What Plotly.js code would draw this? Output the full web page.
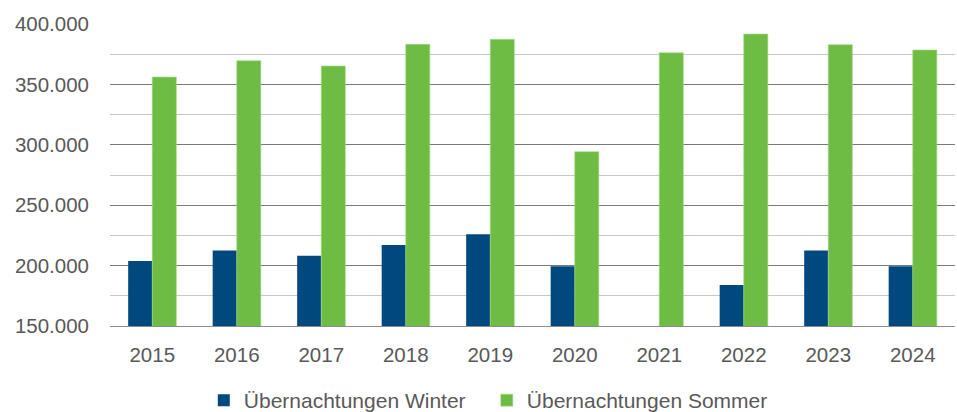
<!DOCTYPE html>
<html>
<head>
<meta charset="utf-8">
<script src="https://cdn.plot.ly/plotly-3.0.1.min.js"></script>
<style>html,body{margin:0;padding:0;background:#fff;}#chart{width:957px;height:412px;}</style>
</head>
<body>
<div id="chart"></div>
<script>
const years = ['2015','2016','2017','2018','2019','2020','2021','2022','2023','2024'];
const winter = [203800, 212600, 208200, 217000, 225900, 199400, null, 183900, 212600, 199400];
const sommer = [356100, 369600, 365200, 383200, 387300, 294300, 376200, 391700, 382900, 378500];
const seriesNames = ['Übernachtungen Winter', 'Übernachtungen Sommer'];

const traces = [
  {type:'bar', x: years, y: winter, name: seriesNames[0], marker:{color:'#00497F'}},
  {type:'bar', x: years, y: sommer, name: seriesNames[1], marker:{color:'#6EBC44', line:{color:'#A6D98A', width:0.6}}}
];

const layout = {
  width: 957, height: 412,
  margin: {l:110, r:2, t:24, b:86},
  separators: ',.',
  barmode: 'group',
  bargap: 0.43,
  bargroupgap: 0,
  paper_bgcolor: '#fff',
  plot_bgcolor: '#fff',
  font: {family: 'Liberation Sans, Arial, sans-serif', color: '#595959', size: 20},
  xaxis: {
    type: 'category',
    showgrid: false,
    showline: true, linecolor: '#8C8C8C', linewidth: 1,
    ticks: '', tickfont: {size: 20.5, color: '#595959'},
    ticklabelstandoff: 10
  },
  yaxis: {
    range: [150000, 400000],
    dtick: 50000,
    tickformat: ',d',
    showgrid: true, gridcolor: '#7A7A7A', gridwidth: 1,
    zeroline: false,
    showline: false,
    ticks: '', tickfont: {size: 20.5, color: '#595959'},
    ticklabelstandoff: 20,
    minor: {dtick: 25000, showgrid: true, gridcolor: '#C8C8C8', gridwidth: 1}
  },
  legend: {
    orientation: 'h',
    x: 0.111, xanchor: 'left',
    yref: 'container',
    y: 0.0777, yanchor: 'top',
    font: {size: 21, color: '#595959'},
    entrywidth: 238,
    traceorder: 'normal'
  },
  showlegend: true
};

Plotly.newPlot('chart', traces, layout, {displayModeBar: false, staticPlot: true});
</script>
</body>
</html>
